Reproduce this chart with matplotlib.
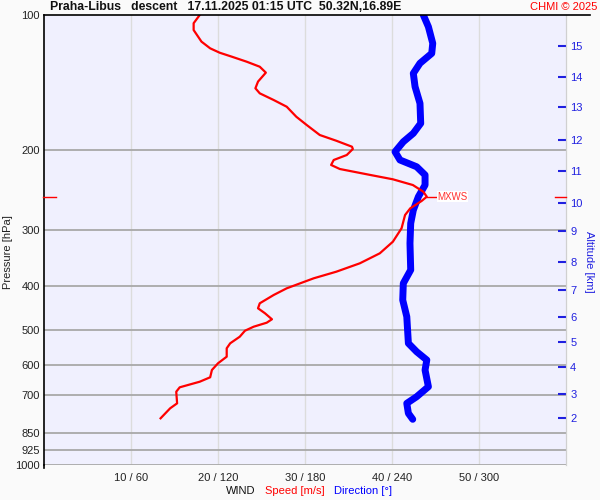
import matplotlib
matplotlib.use("Agg")
import matplotlib.pyplot as plt
from matplotlib.lines import Line2D

plt.rcParams['font.family'] = ['Liberation Sans', 'DejaVu Sans']

# ---- data ----
speed_p = [100, 104.3, 108.0, 114.6, 118.6, 121.3, 123.8, 127.0, 130.3, 134.3,
           140.6, 145.5, 149.3, 154.5, 159.9, 168.3, 175.6, 184.8, 190.3, 196.2,
           198.5, 204.7, 210.0, 215.4, 219.9, 226.7, 231.8, 238.7, 247.0, 253.4,
           259.0, 268.9, 278.3, 297.8, 319.0, 338.5, 356.3, 371.9, 384.7, 404.9,
           419.0, 437.2, 448.5, 460.1, 474.4, 482.8, 492.8, 503.0, 518.7, 536.5,
           550.4, 574.5, 594.3, 615.0, 638.4, 653.0, 672.0, 687.3, 729.4, 748.2,
           787.5]
speed_v = [17.9, 17.2, 17.2, 18.1, 19.1, 20.2, 21.6, 23.3, 24.8, 25.5,
           24.6, 24.3, 24.8, 26.4, 27.9, 29.0, 30.2, 31.7, 33.6, 35.4,
           35.5, 34.8, 33.3, 33.0, 34.0, 37.5, 40.1, 42.4, 43.6, 44.0,
           43.4, 42.1, 41.5, 41.1, 40.1, 38.6, 36.3, 33.6, 31.0, 27.9,
           26.4, 24.8, 24.6, 25.4, 26.2, 25.6, 24.1, 23.1, 22.5, 21.4,
           21.0, 21.0, 20.0, 19.3, 19.1, 17.9, 15.6, 15.2, 15.3, 14.5,
           13.4]

dir_p = [100, 106.2, 115.6, 121.7, 128.0, 134.8, 144.3, 157.2, 174.1, 183.2,
         191.3, 201.3, 210.0, 217.4, 226.7, 238.7, 253.4, 271.4, 290.4, 321.6,
         368.6, 394.7, 429.9, 468.2, 536.5, 560.1, 584.4, 615.0, 669.9, 705.1,
         729.4, 767.6, 791.5]
dir_v = [261.6, 265.1, 268.1, 267.4, 259.3, 254.7, 255.9, 259.3, 259.8, 254.7,
         247.8, 242.1, 245.5, 257.0, 262.8, 262.8, 258.2, 254.7, 252.9, 252.4,
         252.9, 247.8, 247.4, 250.2, 251.3, 257.0, 264.0, 262.8, 265.1, 257.0,
         250.2, 251.3, 254.3]

mxws_p = 253.4
mxws_v = 44.0

p_ticks = [100, 200, 300, 400, 500, 600, 700, 850, 925, 1000]
wind_ticks = [10, 20, 30, 40, 50]
wind_labels = ["10 / 60", "20 / 120", "30 / 180", "40 / 240", "50 / 300"]
alt_km = [2, 3, 4, 5, 6, 7, 8, 9, 10, 11, 12, 13, 14, 15]
alt_p = [786, 695, 606, 533, 469, 408, 354, 302, 262, 222, 190, 160, 137, 117]

title = "Praha-Libus   descent   17.11.2025 01:15 UTC  50.32N,16.89E"

# ---- figure ----
W, H = 600, 500
fig = plt.figure(figsize=(6, 5), dpi=100, facecolor='#FAFAFA')
L, R, T, B = 44, 566, 15, 465
ax = fig.add_axes([L / W, 1 - B / H, (R - L) / W, (B - T) / H])
ax.set_facecolor('#F0F0FE')
ax.set_yscale('log')
ax.set_ylim(1000, 100)
ax.set_xlim(0, 60)

ax.set_yticks(p_ticks)
ax.set_yticklabels([str(p) for p in p_ticks])
ax.yaxis.set_minor_locator(matplotlib.ticker.NullLocator())
ax.tick_params(axis='y', length=0, pad=3, labelsize=8, labelcolor='#222222')
ax.set_xticks(wind_ticks)
ax.set_xticklabels(wind_labels)
ax.tick_params(axis='x', length=0, pad=6, labelsize=8, labelcolor='#222222')

for p in p_ticks[1:]:
    ax.axhline(p, color='#A8A8A8', lw=1.3, zorder=1)
for w in wind_ticks:
    ax.axvline(w, color='#DCDCDC', lw=1.0, zorder=0.9)

for s in ['top', 'bottom']:
    ax.spines[s].set_visible(False)
ax.spines['left'].set_color('black')
ax.spines['left'].set_linewidth(1.2)
ax.spines['right'].set_color('#D0D0D0')

# direction axis
axd = ax.twiny()
axd.set_xlim(0, 360)
axd.set_xticks([])
for s in axd.spines.values():
    s.set_visible(False)
axd.plot(dir_v, dir_p, color='#0000FF', lw=5, solid_capstyle='round', zorder=3)

# speed on its own top layer
axs = ax.twiny()
axs.set_xlim(0, 60)
axs.set_xticks([])
for s in axs.spines.values():
    s.set_visible(False)
axs.plot(speed_v, speed_p, color='#FF0000', lw=1.6, zorder=4)
axs.plot([mxws_v, mxws_v + 1.0], [mxws_p, mxws_p], color='#FF0000', lw=1)
axs.text(mxws_v + 1.2, mxws_p, "MXWS", color='#FF3030', fontsize=7,
         va='center', ha='left',
         bbox=dict(facecolor='white', edgecolor='none', pad=0.5))

# altitude axis
axr = ax.twinx()
axr.set_yscale('log')
axr.set_ylim(1000, 100)
axr.set_yticks(alt_p)
axr.set_yticklabels([str(a) for a in alt_km])
axr.yaxis.set_minor_locator(matplotlib.ticker.NullLocator())
axr.tick_params(axis='y', direction='in', length=6, width=1.5, color='#2020E0',
                labelcolor='#2020E0', labelsize=8, pad=3)
for s in ['top', 'bottom', 'left']:
    axr.spines[s].set_visible(False)
axr.spines['right'].set_color('#D0D0D0')

# axis titles placed explicitly
fig.text(8 / W, 1 - 252 / H, "Pressure [hPa]", rotation=90, fontsize=8,
         color='#222222', ha='center', va='center')
fig.text(589 / W, 1 - 262 / H, "Altitude [km]", rotation=-90, fontsize=8,
         color='#2020E0', ha='center', va='center')

# MXWS ticks on both edges
tr = matplotlib.transforms.blended_transform_factory(fig.transFigure, ax.transData)
fig.add_artist(Line2D([43 / W, 56 / W], [mxws_p, mxws_p], transform=tr,
                      color='#FF0000', lw=1))
fig.add_artist(Line2D([555 / W, 566 / W], [mxws_p, mxws_p], transform=tr,
                      color='#FF0000', lw=1))

# top black line and left spine extension
fig.add_artist(Line2D([L / W, 590 / W], [1 - T / H, 1 - T / H], color='black', lw=1.2))
fig.add_artist(Line2D([L / W, L / W], [1 - B / H, 1 - 468 / H], color='black', lw=1.2))

fig.text(50 / W, 1 - 7 / H, title, fontsize=8.8, fontweight='bold',
         ha='left', va='center', color='#111111')
fig.text(597 / W, 1 - 7 / H, "CHMI © 2025", fontsize=8, color='#FF0000',
         ha='right', va='center')

fig.text(255 / W, 1 - 491 / H, "WIND", fontsize=8, color='#111111', ha='right', va='center')
fig.text(265 / W, 1 - 491 / H, "Speed [m/s]", fontsize=8, color='#FF0000', ha='left', va='center')
fig.text(334 / W, 1 - 491 / H, "Direction [°]", fontsize=8, color='#0000FF', ha='left', va='center')

fig.savefig("out.png", dpi=100, facecolor=fig.get_facecolor())
